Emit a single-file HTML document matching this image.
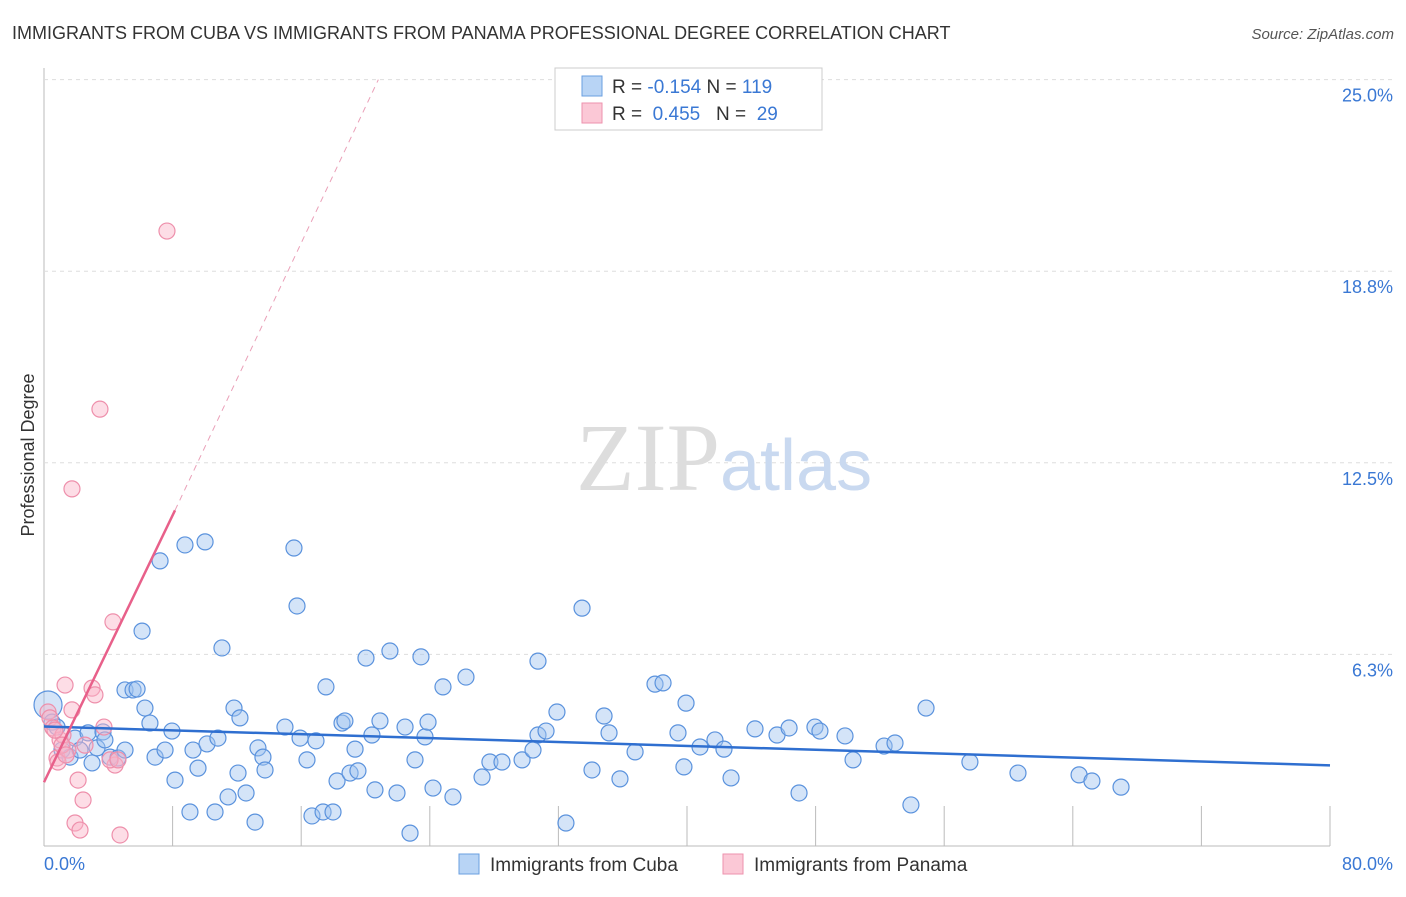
<!DOCTYPE html>
<html><head><meta charset="utf-8"><style>
body{margin:0;background:#fff;font-family:"Liberation Sans",sans-serif}
svg text{font-family:"Liberation Sans",sans-serif}
</style></head><body>
<svg width="1406" height="892" xmlns="http://www.w3.org/2000/svg">
<text x="12" y="39" font-size="18" fill="#333">IMMIGRANTS FROM CUBA VS IMMIGRANTS FROM PANAMA PROFESSIONAL DEGREE CORRELATION CHART</text>
<text x="1394" y="39" font-size="15" fill="#555" font-style="italic" text-anchor="end">Source: ZipAtlas.com</text>
<g id="grid"></g>
<text x="720" y="490" font-size="96" fill="#ddd" text-anchor="end" font-family="Liberation Serif" style="font-family:'Liberation Serif',serif">ZIP</text>
<text x="720" y="490" font-size="72" fill="#c9d9f0">atlas</text>
<g id="pts"></g>
<g id="lines"></g>
<text transform="translate(34,455) rotate(-90)" font-size="18" fill="#333" text-anchor="middle">Professional Degree</text>
<g id="ticks"></g>
<rect x="555" y="68" width="267" height="62" fill="#fff" stroke="#ccc"/>
<rect x="582" y="76" width="20" height="20" fill="#b8d4f5" stroke="#6a9fe0"/>
<rect x="582" y="103" width="20" height="20" fill="#fbc8d6" stroke="#ee92ad"/>
<text x="612" y="93" font-size="19" fill="#333">R = <tspan fill="#3a78d4">-0.154</tspan>   N = <tspan fill="#3a78d4">119</tspan></text>
<text x="612" y="120" font-size="19" fill="#333" xml:space="preserve">R =  <tspan fill="#3a78d4">0.455</tspan>   N =  <tspan fill="#3a78d4">29</tspan></text>
<rect x="459" y="854" width="20" height="20" fill="#b8d4f5" stroke="#6a9fe0"/>
<text x="490" y="871" font-size="19" fill="#333">Immigrants from Cuba</text>
<rect x="723" y="854" width="20" height="20" fill="#fbc8d6" stroke="#ee92ad"/>
<text x="754" y="871" font-size="19" fill="#333">Immigrants from Panama</text>
</svg>
<script>
const xTicks=[0,8,16,24,32,40,48,56,64,72,80];
const yTicks=[6.25,12.5,18.75,25];
const yTickLabels=["6.3%","12.5%","18.8%","25.0%"];
const cubaPx=[[48,705],[52,722],[57,727],[62,750],[70,757],[75,738],[80,750],[88,733],[92,763],[97,748],[103,732],[105,740],[110,757],[118,758],[125,750],[125,690],[133,690],[137,689],[142,631],[145,708],[150,723],[155,757],[160,561],[165,750],[172,731],[175,780],[185,545],[190,812],[193,750],[198,768],[205,542],[207,744],[215,812],[218,738],[222,648],[228,797],[234,708],[238,773],[240,718],[246,793],[255,822],[258,748],[263,757],[265,770],[285,727],[294,548],[297,606],[300,738],[307,760],[312,816],[316,741],[323,812],[326,687],[333,812],[337,781],[342,723],[345,721],[350,773],[355,749],[358,771],[366,658],[372,735],[375,790],[380,721],[390,651],[397,793],[405,727],[410,833],[415,760],[421,657],[425,737],[428,722],[433,788],[443,687],[453,797],[466,677],[482,777],[490,762],[502,762],[522,760],[533,750],[538,735],[538,661],[546,731],[557,712],[566,823],[582,608],[592,770],[604,716],[609,733],[620,779],[635,752],[655,684],[663,683],[678,733],[684,767],[686,703],[700,747],[715,740],[724,749],[731,778],[755,729],[777,735],[789,728],[799,793],[815,727],[820,731],[845,736],[853,760],[884,746],[895,743],[911,805],[926,708],[970,762],[1018,773],[1079,775],[1092,781],[1121,787]];
const panamaPx=[[48,712],[50,718],[53,728],[57,758],[60,740],[63,735],[65,685],[68,750],[72,489],[72,710],[75,823],[78,780],[80,830],[83,800],[92,688],[95,695],[100,409],[104,727],[113,622],[115,765],[120,835],[167,231],[55,730],[58,762],[62,745],[66,755],[110,760],[118,760],[85,745]];
// convert picture reading to data units
const inv=p=>[+((p[0]-44)/1286*80).toFixed(2),+((846-p[1])/191.6*6.25).toFixed(2)];
const cubaX=cubaPx.map(p=>inv(p)[0]), cubaY=cubaPx.map(p=>inv(p)[1]);
const panamaX=panamaPx.map(p=>inv(p)[0]), panamaY=panamaPx.map(p=>inv(p)[1]);
const cubaLine=[[0,3.9],[80,2.63]];
const panamaLine=[[0,2.08],[8.15,10.95]];
const panamaDash=[[8.15,10.95],[20.8,25]];
const X=v=>44+v/80*1286, Y=v=>846-v/6.25*191.6;
const NS="http://www.w3.org/2000/svg";
function mk(tag,attrs,parent){const e=document.createElementNS(NS,tag);for(const k in attrs)e.setAttribute(k,attrs[k]);document.getElementById(parent).appendChild(e);return e;}
const ax=mk('line',{x1:44,y1:68,x2:44,y2:846,stroke:'#bbb'},'grid');


const bx=mk('line',{x1:44,y1:846,x2:1330,y2:846,stroke:'#bbb'},'grid');


yTicks.forEach((v,i)=>{
 const g=mk('line',{x1:44,y1:Y(v),x2:1394,y2:Y(v),stroke:'#ddd','stroke-dasharray':'4,4'},'grid');
 
 
 const t=mk('text',{x:1393,y:Y(v)+22,'font-size':18,fill:'#3a78d4','text-anchor':'end'},'ticks');t.textContent=yTickLabels[i];
 
 
});
xTicks.forEach((v,i)=>{if(i==0)return;
 const l=mk('line',{x1:X(v),y1:806,x2:X(v),y2:846,stroke:'#bbb'},'grid');
 
 
});
const t0=mk('text',{x:44,y:870,'font-size':18,fill:'#3a78d4'},'ticks');t0.textContent='0.0%';


const t1=mk('text',{x:1393,y:870,'font-size':18,fill:'#3a78d4','text-anchor':'end'},'ticks');t1.textContent='80.0%';


cubaX.forEach((x,i)=>{const c=mk('circle',{cx:X(x),cy:Y(cubaY[i]),r:i==0?14:8,fill:'rgba(160,195,240,0.45)',stroke:'#5a92dd','stroke-width':1.2},'pts');
 
 });
panamaX.forEach((x,i)=>{const c=mk('circle',{cx:X(x),cy:Y(panamaY[i]),r:8,fill:'rgba(250,180,200,0.45)',stroke:'#ee8fab','stroke-width':1.2},'pts');
 
 });
const l1=mk('line',{x1:X(cubaLine[0][0]),y1:Y(cubaLine[0][1]),x2:X(cubaLine[1][0]),y2:Y(cubaLine[1][1]),stroke:'#2f6fd0','stroke-width':2.5},'lines');


const l2=mk('line',{x1:X(panamaLine[0][0]),y1:Y(panamaLine[0][1]),x2:X(panamaLine[1][0]),y2:Y(panamaLine[1][1]),stroke:'#e8608a','stroke-width':2.5},'lines');


const l3=mk('line',{x1:X(panamaDash[0][0]),y1:Y(panamaDash[0][1]),x2:X(panamaDash[1][0]),y2:Y(panamaDash[1][1]),stroke:'#eaa0b8','stroke-width':1,'stroke-dasharray':'6,5'},'lines');


</script>
</body></html>
